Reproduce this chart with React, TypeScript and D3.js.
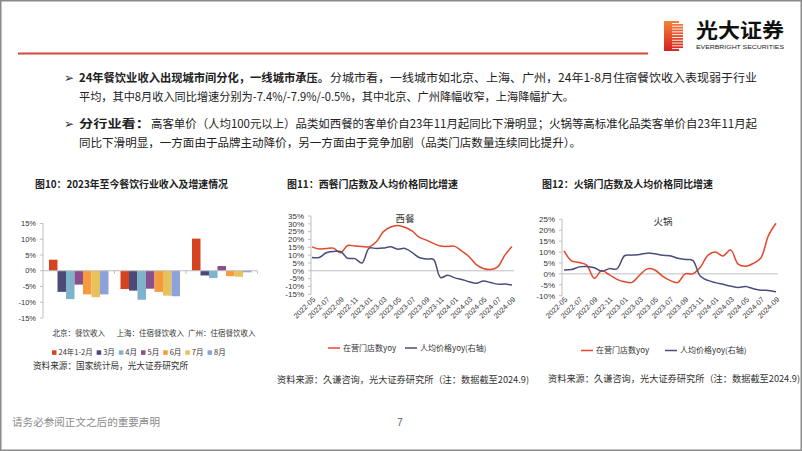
import React from 'react';
import * as d3 from 'd3';

// ---------- data ----------
const cities = ['北京：餐饮收入', '上海：住宿餐饮收入', '广州：住宿餐饮收入'];
const periods = ['24年1-2月', '3月', '4月', '5月', '6月', '7月', '8月'];
const beijingYoy = [3.5, -6.7, -9.0, -4.4, -7.5, -8.4, -7.5];
const shanghaiYoy = [-5.8, -6.3, -9.2, -5.7, -6.7, -7.9, -8.1];
const guangzhouYoy = [10.2, -1.5, -2.3, 1.5, -1.7, -1.9, -0.5];
const barTicks = [15, 10, 5, 0, -5, -10, -15];

const months = ['2022-05', '2022-06', '2022-07', '2022-08', '2022-09', '2022-10', '2022-11', '2022-12',
  '2023-01', '2023-02', '2023-03', '2023-04', '2023-05', '2023-06', '2023-07', '2023-08', '2023-09',
  '2023-10', '2023-11', '2023-12', '2024-01', '2024-02', '2024-03', '2024-04', '2024-05', '2024-06',
  '2024-07', '2024-08', '2024-09'];
const monthTicks = ['2022-05', '2022-07', '2022-09', '2022-11', '2023-01', '2023-03', '2023-05', '2023-07',
  '2023-09', '2023-11', '2024-01', '2024-03', '2024-05', '2024-07', '2024-09'];

const westernStoresYoy = [15.3, 13.9, 14.3, 14.5, 11.5, 16.2, 15.8, 15.5, 15.3, 18.5, 25.0, 28.0, 29.0, 27.8,
  25.5, 21.5, 19.6, 17.5, 15.8, 15.6, 15.6, 12.5, 9.0, 4.0, 1.5, 0.8, 2.5, 10.0, 15.5];
const westernPriceYoy = [8.5, 8.5, 11.5, 12.3, 12.3, 8.0, 7.8, 5.0, 14.5, 14.2, 14.5, 15.3, 13.8, 14.3,
  11.8, 8.5, 7.5, 7.3, -4.3, -2.8, -4.5, -5.5, -7.0, -8.0, -6.5, -7.5, -8.5, -8.5, -9.0];
const westernTicks = [35, 30, 25, 20, 15, 10, 5, 0, -5, -10, -15];

const hotpotStoresYoy = [10.5, 6.0, 5.2, 4.0, -2.0, 1.5, -0.5, -2.5, -3.6, -3.9, -0.5, 2.3, 1.8, -1.0,
  -3.0, -4.0, 0.0, 0.0, 3.0, 8.5, 10.0, 8.2, 11.0, 4.5, 3.5, 4.8, 7.3, 17.5, 23.2];
const hotpotPriceYoy = [1.8, 2.0, 3.2, 3.4, 2.8, 1.2, 2.4, 2.3, 8.3, 8.6, 8.9, 9.5, 9.2, 8.5, 8.3, 7.2,
  6.6, 6.2, -1.0, -3.0, -4.0, -4.8, -5.6, -6.2, -5.8, -6.8, -7.5, -7.6, -8.2];
const hotpotTicks = [25, 20, 15, 10, 5, 0, -5, -10];

const seriesNames = ['在营门店数yoy', '人均价格yoy(右轴)'];

// ---------- styles ----------
const CJK = '"Noto Sans CJK SC", "Noto Sans", sans-serif';
const LAT = '"Liberation Sans", Arial, sans-serif';
const barColors = ['#D5431F', '#4B4A78', '#7DB3CB', '#8C4F8E', '#F79A3E', '#E7C15B', '#8DA2DB'];
const RED = '#E4472B';
const BLUE = '#4A4D7B';
const AXIS = '#BFBFBF';

function textW(s: string, fs: number) {
  let w = 0;
  for (let k = 0; k < s.length; k++) {
    const c = s.charCodeAt(k);
    if (c > 255) w += fs;
    else if (c >= 48 && c <= 57) w += 0.556 * fs;
    else w += 0.333 * fs;
  }
  return w;
}

function BarChart() {
  const y = d3.scaleLinear().domain([-15, 15]).range([318, 223.5]);
  const x0 = d3.scaleBand<string>().domain(cities).range([43, 257.5]);
  const x1 = d3.scaleBand<string>().domain(periods).range([6, x0.bandwidth() - 6]);
  const data = [beijingYoy, shanghaiYoy, guangzhouYoy];
  const axisX = 43;
  const lfs = 7.5;
  let lx = 52;
  const legendItems = periods.map((p, i) => {
    const item = { p, i, x: lx };
    lx += 4.5 + 2 + textW(p, lfs) + 4;
    return item;
  });
  return (
    <g>
      <line x1={axisX} x2={axisX} y1={y(15)} y2={y(-15)} stroke={AXIS} />
      {barTicks.map(t => (
        <g key={t}>
          <line x1={axisX - 3} x2={axisX} y1={y(t)} y2={y(t)} stroke={AXIS} />
          <text x={36} y={y(t)} dy="0.35em" textAnchor="end" fontSize={7.5} fontFamily={LAT} fill="#333">{t}%</text>
        </g>
      ))}
      {cities.map((c, ci) => (
        <g key={c} transform={`translate(${x0(c)},0)`}>
          {data[ci].map((v, pi) => (
            <rect key={pi} x={x1(periods[pi])} width={x1.bandwidth()} y={Math.min(y(v), y(0))}
              height={Math.abs(y(v) - y(0))} fill={barColors[pi]} />
          ))}
        </g>
      ))}
      <line x1={axisX} x2={257.5} y1={y(0)} y2={y(0)} stroke={AXIS} />
      {cities.map(c => (
        <line key={c} x1={x0(c)! + x0.bandwidth()} x2={x0(c)! + x0.bandwidth()} y1={y(0)} y2={y(0) + 3} stroke={AXIS} />
      ))}
      {cities.map(c => (
        <text key={c} x={x0(c)! + x0.bandwidth() / 2} y={333} dy="0.35em" textAnchor="middle" fontSize={7.5}
          fontFamily={CJK} fill="#333">{c}</text>
      ))}
      {legendItems.map(it => (
        <g key={it.p}>
          <rect x={it.x} y={350.3} width={4.5} height={4.5} fill={barColors[it.i]} />
          <text x={it.x + 6.5} y={352.5} dy="0.35em" fontSize={lfs} fontFamily={CJK} fill="#333">{it.p}</text>
        </g>
      ))}
    </g>
  );
}

type LCProps = {
  axisX: number; xRange: [number, number]; yDomain: [number, number]; yRange: [number, number];
  ticks: number[]; red: number[]; blue: number[]; label: string; labelX: number; labelY: number;
  labelY2: number; legendY: number; legendX: [number, number];
};

function LineChart(p: LCProps) {
  const x = d3.scalePoint<string>().domain(months).range(p.xRange);
  const y = d3.scaleLinear().domain(p.yDomain).range(p.yRange);
  const gen = d3.line<number>().x((_, i) => x(months[i])!).y(v => y(v)).curve(d3.curveCatmullRom.alpha(0.5));
  return (
    <g>
      <line x1={p.axisX} x2={p.axisX} y1={y(p.yDomain[1])} y2={y(p.yDomain[0])} stroke={AXIS} />
      {p.ticks.map(t => (
        <g key={t}>
          <line x1={p.axisX - 3} x2={p.axisX} y1={y(t)} y2={y(t)} stroke={AXIS} />
          <text x={p.axisX - 7} y={y(t)} dy="0.35em" textAnchor="end" fontSize={8} fontFamily={LAT} fill="#333">{t}%</text>
        </g>
      ))}
      <line x1={p.axisX} x2={p.xRange[1] + 2} y1={y(0)} y2={y(0)} stroke={AXIS} />
      <path d={gen(p.red)!} fill="none" stroke={RED} strokeWidth={1.5} />
      <path d={gen(p.blue)!} fill="none" stroke={BLUE} strokeWidth={1.5} />
      {monthTicks.map(m => (
        <text key={m} transform={`translate(${x(m)! + 2},${p.labelY2}) rotate(-45)`} dy="0.35em" textAnchor="end"
          fontSize={7.4} fontFamily={LAT} fill="#333">{m}</text>
      ))}
      <text x={p.labelX} y={p.labelY} dy="0.35em" textAnchor="middle" fontSize={9.5} fontFamily={CJK} fill="#333">{p.label}</text>
      <line x1={p.legendX[0]} x2={p.legendX[0] + 12} y1={p.legendY} y2={p.legendY} stroke={RED} strokeWidth={1.5} />
      <text x={p.legendX[0] + 15} y={p.legendY} dy="0.35em" fontSize={8} fontFamily={CJK} fill="#333">{seriesNames[0]}</text>
      <line x1={p.legendX[1]} x2={p.legendX[1] + 12} y1={p.legendY} y2={p.legendY} stroke={BLUE} strokeWidth={1.5} />
      <text x={p.legendX[1] + 15} y={p.legendY} dy="0.35em" fontSize={8} fontFamily={CJK} fill="#333">{seriesNames[1]}</text>
    </g>
  );
}

export default function App() {
  return (
    <svg width={802} height={451} viewBox="0 0 802 451" style={{ position: 'absolute', left: 0, top: 0, background: '#fff' }}
      xmlns="http://www.w3.org/2000/svg">
      <defs>
        <linearGradient id="logoGrad" x1="0" y1="0" x2="0" y2="1">
          <stop offset="0" stopColor="#F5843C" />
          <stop offset="1" stopColor="#D71E1E" />
        </linearGradient>
      </defs>
      <rect x={0} y={0} width={802} height={451} fill="#fff" />
      <rect x={0.75} y={0.75} width={800.5} height={449.5} fill="none" stroke="#8a8a8a" strokeWidth={1.5} />

      {/* header */}
      <line x1={18} x2={648} y1={53.5} y2={53.5} stroke="#D2483A" strokeWidth={2} />
      <rect x={664} y={21} width={19} height={30} fill="url(#logoGrad)" />
      {[0, 1, 2, 3, 4, 5, 6, 7, 8, 9].map(k => (
        <rect key={k} x={672} y={23 + k * 2.8} width={11} height={0.9} fill="#fff" />
      ))}
      <rect x={679} y={21} width={4} height={3} fill="#fff" />
      <rect x={679} y={48} width={4} height={3} fill="#fff" />
      <text x={696} y={38} fontSize={20} fontWeight="bold" fontFamily={CJK} fill="#111" textLength={88} lengthAdjust="spacingAndGlyphs">光大证券</text>
      <text x={696} y={49} fontSize={6} fontFamily={LAT} fill="#222" textLength={88} lengthAdjust="spacingAndGlyphs">EVERBRIGHT SECURITIES</text>

      {/* paragraphs */}
      <text x={64} y={78} dy="0.35em" fontSize={12} fontFamily='"DejaVu Sans", sans-serif' fill="#333">➢</text>
      <text x={79} y={78} dy="0.35em" fontSize={11.8} fontWeight="bold" fontFamily={CJK} fill="#222" textLength={250} lengthAdjust="spacingAndGlyphs">24年餐饮业收入出现城市间分化，一线城市承压。</text>
      <text x={330} y={78} dy="0.35em" fontSize={11.8} fontFamily={CJK} fill="#222" textLength={427} lengthAdjust="spacingAndGlyphs">分城市看，一线城市如北京、上海、广州，24年1-8月住宿餐饮收入表现弱于行业</text>
      <text x={79} y={97} dy="0.35em" fontSize={11.8} fontFamily={CJK} fill="#222" textLength={495} lengthAdjust="spacingAndGlyphs">平均，其中8月收入同比增速分别为-7.4%/-7.9%/-0.5%，其中北京、广州降幅收窄，上海降幅扩大。</text>
      <text x={64} y={124} dy="0.35em" fontSize={12} fontFamily='"DejaVu Sans", sans-serif' fill="#333">➢</text>
      <text x={79} y={124} dy="0.35em" fontSize={11.8} fontWeight="bold" fontFamily={CJK} fill="#222" textLength={71} lengthAdjust="spacingAndGlyphs">分行业看：</text>
      <text x={151} y={124} dy="0.35em" fontSize={11.8} fontFamily={CJK} fill="#222" textLength={606} lengthAdjust="spacingAndGlyphs">高客单价（人均100元以上）品类如西餐的客单价自23年11月起同比下滑明显；火锅等高标准化品类客单价自23年11月起</text>
      <text x={79} y={143} dy="0.35em" fontSize={11.8} fontFamily={CJK} fill="#222" textLength={502} lengthAdjust="spacingAndGlyphs">同比下滑明显，一方面由于品牌主动降价，另一方面由于竞争加剧（品类门店数量连续同比提升）。</text>

      {/* titles */}
      <text x={35} y={184} dy="0.35em" fontSize={10} fontWeight="bold" fontFamily={CJK} fill="#222" textLength={193} lengthAdjust="spacingAndGlyphs">图10：2023年至今餐饮行业收入及增速情况</text>
      <text x={287} y={184} dy="0.35em" fontSize={10} fontWeight="bold" fontFamily={CJK} fill="#222" textLength={171} lengthAdjust="spacingAndGlyphs">图11：西餐门店数及人均价格同比增速</text>
      <text x={542} y={184} dy="0.35em" fontSize={10} fontWeight="bold" fontFamily={CJK} fill="#222" textLength={171} lengthAdjust="spacingAndGlyphs">图12：火锅门店数及人均价格同比增速</text>

      <BarChart />
      <LineChart axisX={311} xRange={[312, 512]} yDomain={[-15, 35]} yRange={[294.3, 216]} ticks={westernTicks}
        red={westernStoresYoy} blue={westernPriceYoy} label="西餐" labelX={405} labelY={219} labelY2={298}
        legendY={348} legendX={[328, 405]} />
      <LineChart axisX={562} xRange={[564, 776]} yDomain={[-10, 25]} yRange={[295.7, 219.3]} ticks={hotpotTicks}
        red={hotpotStoresYoy} blue={hotpotPriceYoy} label="火锅" labelX={663} labelY={222} labelY2={298}
        legendY={350.5} legendX={[581, 665]} />

      {/* sources */}
      <text x={33} y={365.5} dy="0.35em" fontSize={9.2} fontFamily={CJK} fill="#333" textLength={155} lengthAdjust="spacingAndGlyphs">资料来源：国家统计局，光大证券研究所</text>
      <text x={277} y={380} dy="0.35em" fontSize={9.2} fontFamily={CJK} fill="#333" textLength={252} lengthAdjust="spacingAndGlyphs">资料来源：久谦咨询，光大证券研究所（注：数据截至2024.9)</text>
      <text x={548} y={379} dy="0.35em" fontSize={9.2} fontFamily={CJK} fill="#333" textLength={252} lengthAdjust="spacingAndGlyphs">资料来源：久谦咨询，光大证券研究所（注：数据截至2024.9)</text>

      {/* footer */}
      <text x={12} y={422} dy="0.35em" fontSize={10.5} fontFamily={CJK} fill="#8a8a8a" textLength={148} lengthAdjust="spacingAndGlyphs">请务必参阅正文之后的重要声明</text>
      <text x={400} y={422} dy="0.35em" textAnchor="middle" fontSize={10.5} fontFamily={LAT} fill="#666">7</text>
    </svg>
  );
}
